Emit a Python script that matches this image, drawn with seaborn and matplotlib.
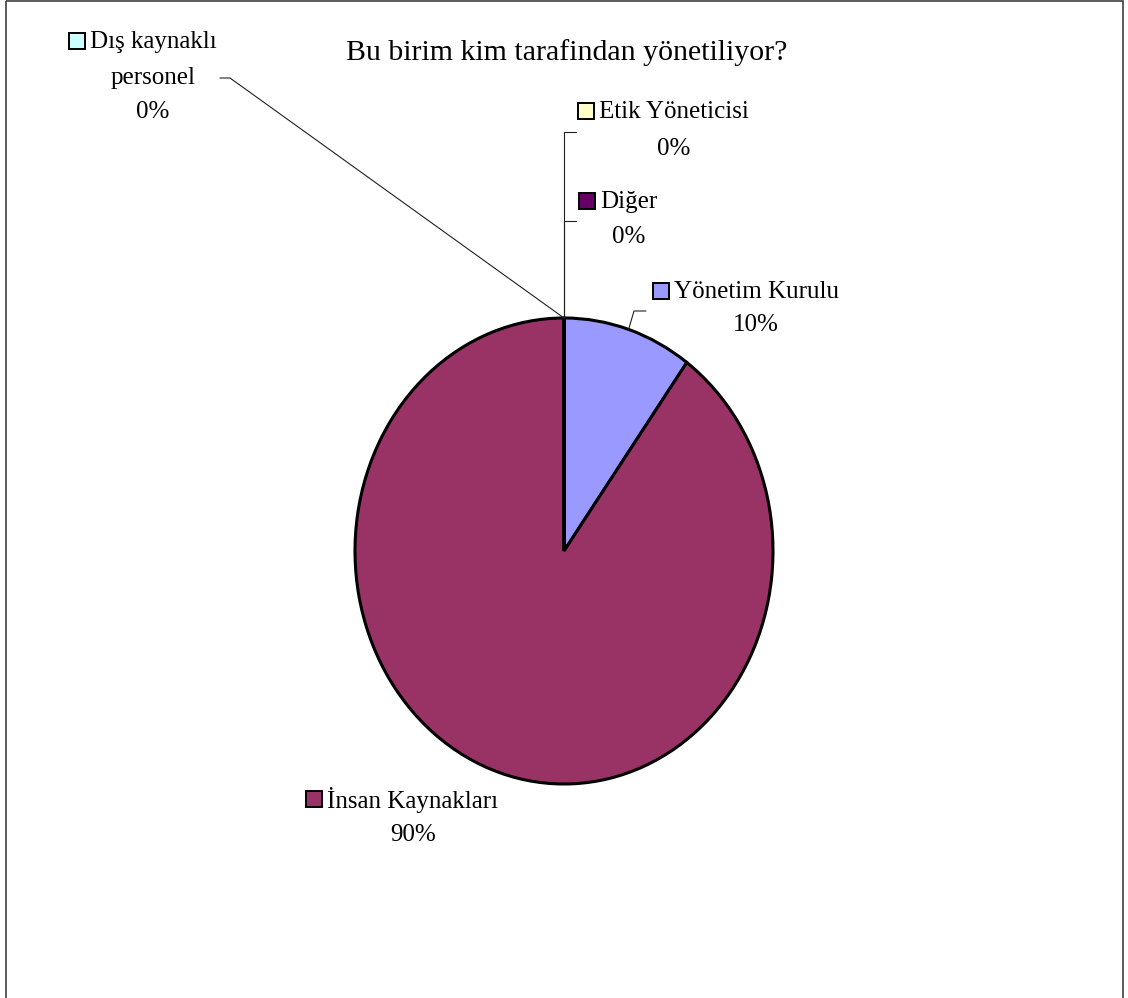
import numpy as np
import matplotlib
matplotlib.use("Agg")
import matplotlib.pyplot as plt
from matplotlib.lines import Line2D
from matplotlib.patches import Rectangle
import seaborn as sns

# --- data -------------------------------------------------------------
categories = ["Yönetim Kurulu", "İnsan Kaynakları", "Dış kaynaklı personel",
              "Diğer", "Etik Yöneticisi"]
values = [10, 90, 0, 0, 0]
colors = ["#9999FF", "#993366", "#CCFFFF", "#660066", "#FFFFCC"]
title = "Bu birim kim tarafindan yönetiliyor?"

# --- figure geometry (pixels) ----------------------------------------
W, H = 1128, 998
CX, CY = 564, 551          # pie centre, measured from top-left
RX, RY = 209, 233          # horizontal / vertical radius of the pie

sns.set_theme(style="white")
plt.rcParams["font.family"] = ["Liberation Serif", "DejaVu Serif"]

fig = plt.figure(figsize=(W / 100, H / 100), dpi=100)
fig.patch.set_facecolor("white")


def fp(x, y):
    """top-left pixel coordinates -> figure fraction"""
    return x / W, 1 - y / H


# axes whose x and y units map to the two radii, giving an oval pie
ax = fig.add_axes([0, 0, 1, 1])
wedges, _ = ax.pie(values, colors=colors, startangle=90, counterclock=False,
                   radius=1, center=(0, 0),
                   wedgeprops=dict(edgecolor="black", linewidth=2.2))
ax.set_aspect("auto")
ax.set_xlim(-CX / RX, (W - CX) / RX)
ax.set_ylim(-(H - CY) / RY, CY / RY)
ax.axis("off")

# outer frame (left, top, right)
fig.add_artist(Rectangle(fp(6, 1), (1123 - 6) / W, -1.2, transform=fig.transFigure,
                         fill=False, edgecolor="#404040", linewidth=1.2))

fig.text(*fp(567, 53), title, ha="center", va="center", fontsize=21.5,
         color="black")

total = sum(values)


def anchor(i):
    """point on the pie rim at the middle of wedge i (pixels)"""
    w = wedges[i]
    ang = np.deg2rad((w.theta1 + w.theta2) / 2)
    return CX + RX * np.cos(ang), CY - RY * np.sin(ang)


# label layout: centre x of text lines, y of each line, leader path
layout = {
    "Yönetim Kurulu": dict(cx=756, ys=[292, 325], lines=["Yönetim Kurulu"],
                           path=[(634, 311), (646, 311)]),
    "İnsan Kaynakları": dict(cx=413, ys=[800, 835], lines=["İnsan Kaynakları"],
                             path=None),
    "Dış kaynaklı personel": dict(cx=153, ys=[42, 78, 112],
                                  lines=["Dış kaynaklı", "personel"],
                                  path=[(230, 78), (220, 78)]),
    "Diğer": dict(cx=629, ys=[202, 237], lines=["Diğer"],
                  path=[(564, 221), (576, 221)]),
    "Etik Yöneticisi": dict(cx=674, ys=[112, 149], lines=["Etik Yöneticisi"],
                            path=[(564, 132), (576, 132)]),
}

FS = 18
renderer = fig.canvas.get_renderer()
for i, (cat, val, col) in enumerate(zip(categories, values, colors)):
    L = layout[cat]
    texts = L["lines"] + [f"{val / total:.0%}"]
    first = None
    for j, (line, y) in enumerate(zip(texts, L["ys"])):
        t = fig.text(*fp(L["cx"], y), line, ha="center", va="center",
                     fontsize=FS, color="black")
        if j == 0:
            first = t
    # legend key to the left of the first line
    bb = first.get_window_extent(renderer)
    left_px = bb.x0
    ky = L["ys"][0]
    ks = 16
    fig.add_artist(Rectangle(fp(left_px - ks - 5, ky + ks / 2 - 1), ks / W, ks / H,
                             transform=fig.transFigure, facecolor=col,
                             edgecolor="black", linewidth=1.4))
    # leader line from the rim
    if L["path"] is not None:
        ax_, ay_ = anchor(i)
        pts = [(ax_, ay_)] + L["path"]
        xs = [fp(x, y)[0] for x, y in pts]
        ys = [fp(x, y)[1] for x, y in pts]
        fig.add_artist(Line2D(xs, ys, transform=fig.transFigure,
                              color="#202020", linewidth=0.8))

fig.savefig("out.png", dpi=100, facecolor="white")
